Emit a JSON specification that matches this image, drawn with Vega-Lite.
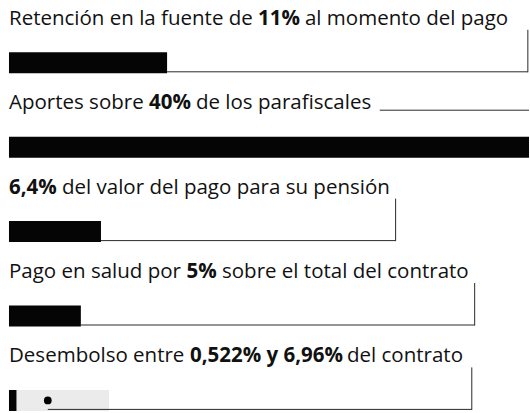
{
  "$schema": "https://vega.github.io/schema/vega-lite/v6.json",
  "width": 530,
  "height": 413,
  "autosize": {"type": "fit", "contains": "padding"},
  "padding": 0,
  "background": "white",
  "config": {
    "view": {"stroke": null},
    "text": {"font": "Open Sans", "fontSize": 20.5, "color": "#111111"}
  },
  "datasets": {
    "bars": [
      {"row": 1, "item": "Retención en la fuente", "pct": 11},
      {"row": 2, "item": "Aportes parafiscales", "pct": 40},
      {"row": 3, "item": "Pensión", "pct": 6.4},
      {"row": 4, "item": "Salud", "pct": 5},
      {"row": 5, "item": "Desembolso", "pct": 0.522, "pct_max": 6.96, "marker": 2.7}
    ],
    "labels": [
      {"row": 1, "part": "lead", "text": "Retención en la fuente de"},
      {"row": 1, "part": "figure", "text": "11%"},
      {"row": 1, "part": "tail", "text": "al momento del pago"},
      {"row": 2, "part": "lead", "text": "Aportes sobre"},
      {"row": 2, "part": "figure", "text": "40%"},
      {"row": 2, "part": "tail", "text": "de los parafiscales"},
      {"row": 3, "part": "figure", "text": "6,4%"},
      {"row": 3, "part": "tail", "text": "del valor del pago para su pensión"},
      {"row": 4, "part": "lead", "text": "Pago en salud por"},
      {"row": 4, "part": "figure", "text": "5%"},
      {"row": 4, "part": "tail", "text": "sobre el total del contrato"},
      {"row": 5, "part": "lead", "text": "Desembolso entre"},
      {"row": 5, "part": "figure", "text": "0,522% y 6,96%"},
      {"row": 5, "part": "tail", "text": "del contrato"}
    ],
    "leaders": [
      {"row": 1, "from": 11, "to": 36.1, "kind": "elbow"},
      {"row": 2, "from": 25.8, "to": 36.18, "kind": "flat"},
      {"row": 3, "from": 6.4, "to": 26.9, "kind": "elbow"},
      {"row": 4, "from": 5, "to": 32.4, "kind": "elbow"},
      {"row": 5, "from": 2.7, "to": 32.2, "kind": "elbow"}
    ]
  },
  "layer": [
    {
      "data": {"name": "bars"},
      "transform": [{"filter": "isValid(datum.pct_max)"}],
      "mark": {"type": "bar", "height": 21, "yOffset": 22, "color": "#ebebeb"},
      "encoding": {
        "x": {"field": "pct", "type": "quantitative", "scale": {"domain": [-0.625, 36.18], "clamp": true}, "axis": null},
        "x2": {"field": "pct_max"},
        "y": {"field": "row", "type": "ordinal", "scale": {"type": "band", "domain": [1, 2, 3, 4, 5], "range": [-1.4, 420.6], "paddingInner": 0, "paddingOuter": 0}, "axis": null}
      }
    },
    {
      "data": {"name": "bars"},
      "mark": {"type": "bar", "height": 21, "yOffset": 22, "color": "#050505"},
      "encoding": {
        "x": {"field": "pct", "type": "quantitative", "scale": {"domain": [-0.625, 36.18], "clamp": true}, "axis": null},
        "x2": {"datum": 0},
        "y": {"field": "row", "type": "ordinal", "scale": {"type": "band", "domain": [1, 2, 3, 4, 5], "range": [-1.4, 420.6], "paddingInner": 0, "paddingOuter": 0}, "axis": null}
      }
    },
    {
      "data": {"name": "leaders"},
      "mark": {"type": "rule", "color": "#2a2a2a", "strokeWidth": 1, "yOffset": 31},
      "transform": [{"filter": "datum.kind == 'elbow'"}],
      "encoding": {
        "x": {"field": "from", "type": "quantitative", "scale": {"domain": [-0.625, 36.18], "clamp": true}, "axis": null},
        "x2": {"field": "to"},
        "y": {"field": "row", "type": "ordinal", "scale": {"type": "band", "domain": [1, 2, 3, 4, 5], "range": [-1.4, 420.6], "paddingInner": 0, "paddingOuter": 0}, "axis": null}
      }
    },
    {
      "data": {"name": "leaders"},
      "mark": {"type": "rule", "color": "#2a2a2a", "strokeWidth": 1, "yOffset": -15},
      "transform": [{"filter": "datum.kind == 'flat'"}],
      "encoding": {
        "x": {"field": "from", "type": "quantitative", "scale": {"domain": [-0.625, 36.18], "clamp": true}, "axis": null},
        "x2": {"field": "to"},
        "y": {"field": "row", "type": "ordinal", "scale": {"type": "band", "domain": [1, 2, 3, 4, 5], "range": [-1.4, 420.6], "paddingInner": 0, "paddingOuter": 0}, "axis": null}
      }
    },
    {
      "data": {"name": "leaders"},
      "mark": {"type": "rule", "color": "#2a2a2a", "strokeWidth": 1, "yOffset": -11, "y2Offset": 31.5},
      "transform": [{"filter": "datum.kind == 'elbow'"}],
      "encoding": {
        "x": {"field": "to", "type": "quantitative", "scale": {"domain": [-0.625, 36.18], "clamp": true}, "axis": null},
        "y": {"field": "row", "type": "ordinal", "scale": {"type": "band", "domain": [1, 2, 3, 4, 5], "range": [-1.4, 420.6], "paddingInner": 0, "paddingOuter": 0}, "axis": null},
        "y2": {"field": "row"}
      }
    },
    {
      "data": {"name": "bars"},
      "transform": [{"filter": "isValid(datum.marker)"}],
      "mark": {"type": "point", "filled": true, "color": "#000000", "size": 60, "opacity": 1, "yOffset": 22},
      "encoding": {
        "x": {"field": "marker", "type": "quantitative", "scale": {"domain": [-0.625, 36.18], "clamp": true}, "axis": null},
        "y": {"field": "row", "type": "ordinal", "scale": {"type": "band", "domain": [1, 2, 3, 4, 5], "range": [-1.4, 420.6], "paddingInner": 0, "paddingOuter": 0}, "axis": null}
      }
    },
    {
      "data": {"name": "labels"},
      "transform": [{"filter": "datum.part == 'lead'"}],
      "mark": {"type": "text", "align": "left", "baseline": "middle", "dy": -22},
      "encoding": {
        "x": {"datum": 0, "type": "quantitative", "scale": {"domain": [-0.625, 36.18], "clamp": true}, "axis": null},
        "y": {"field": "row", "type": "ordinal", "scale": {"type": "band", "domain": [1, 2, 3, 4, 5], "range": [-1.4, 420.6], "paddingInner": 0, "paddingOuter": 0}, "axis": null},
        "text": {"field": "text"}
      }
    },
    {
      "data": {"name": "labels"},
      "transform": [{"filter": "datum.row == 1 && datum.part == 'figure'"}],
      "mark": {"type": "text", "align": "left", "baseline": "middle", "dy": -22, "dx": 249, "fontWeight": "bold"},
      "encoding": {
        "x": {"datum": 0, "type": "quantitative", "scale": {"domain": [-0.625, 36.18], "clamp": true}, "axis": null},
        "y": {"field": "row", "type": "ordinal", "scale": {"type": "band", "domain": [1, 2, 3, 4, 5], "range": [-1.4, 420.6], "paddingInner": 0, "paddingOuter": 0}, "axis": null},
        "text": {"field": "text"}
      }
    },
    {
      "data": {"name": "labels"},
      "transform": [{"filter": "datum.row == 1 && datum.part == 'tail'"}],
      "mark": {"type": "text", "align": "left", "baseline": "middle", "dy": -22, "dx": 296},
      "encoding": {
        "x": {"datum": 0, "type": "quantitative", "scale": {"domain": [-0.625, 36.18], "clamp": true}, "axis": null},
        "y": {"field": "row", "type": "ordinal", "scale": {"type": "band", "domain": [1, 2, 3, 4, 5], "range": [-1.4, 420.6], "paddingInner": 0, "paddingOuter": 0}, "axis": null},
        "text": {"field": "text"}
      }
    },
    {
      "data": {"name": "labels"},
      "transform": [{"filter": "datum.row == 2 && datum.part == 'figure'"}],
      "mark": {"type": "text", "align": "left", "baseline": "middle", "dy": -22, "dx": 140, "fontWeight": "bold"},
      "encoding": {
        "x": {"datum": 0, "type": "quantitative", "scale": {"domain": [-0.625, 36.18], "clamp": true}, "axis": null},
        "y": {"field": "row", "type": "ordinal", "scale": {"type": "band", "domain": [1, 2, 3, 4, 5], "range": [-1.4, 420.6], "paddingInner": 0, "paddingOuter": 0}, "axis": null},
        "text": {"field": "text"}
      }
    },
    {
      "data": {"name": "labels"},
      "transform": [{"filter": "datum.row == 2 && datum.part == 'tail'"}],
      "mark": {"type": "text", "align": "left", "baseline": "middle", "dy": -22, "dx": 187},
      "encoding": {
        "x": {"datum": 0, "type": "quantitative", "scale": {"domain": [-0.625, 36.18], "clamp": true}, "axis": null},
        "y": {"field": "row", "type": "ordinal", "scale": {"type": "band", "domain": [1, 2, 3, 4, 5], "range": [-1.4, 420.6], "paddingInner": 0, "paddingOuter": 0}, "axis": null},
        "text": {"field": "text"}
      }
    },
    {
      "data": {"name": "labels"},
      "transform": [{"filter": "datum.row == 3 && datum.part == 'figure'"}],
      "mark": {"type": "text", "align": "left", "baseline": "middle", "dy": -22, "dx": 0, "fontWeight": "bold"},
      "encoding": {
        "x": {"datum": 0, "type": "quantitative", "scale": {"domain": [-0.625, 36.18], "clamp": true}, "axis": null},
        "y": {"field": "row", "type": "ordinal", "scale": {"type": "band", "domain": [1, 2, 3, 4, 5], "range": [-1.4, 420.6], "paddingInner": 0, "paddingOuter": 0}, "axis": null},
        "text": {"field": "text"}
      }
    },
    {
      "data": {"name": "labels"},
      "transform": [{"filter": "datum.row == 3 && datum.part == 'tail'"}],
      "mark": {"type": "text", "align": "left", "baseline": "middle", "dy": -22, "dx": 53},
      "encoding": {
        "x": {"datum": 0, "type": "quantitative", "scale": {"domain": [-0.625, 36.18], "clamp": true}, "axis": null},
        "y": {"field": "row", "type": "ordinal", "scale": {"type": "band", "domain": [1, 2, 3, 4, 5], "range": [-1.4, 420.6], "paddingInner": 0, "paddingOuter": 0}, "axis": null},
        "text": {"field": "text"}
      }
    },
    {
      "data": {"name": "labels"},
      "transform": [{"filter": "datum.row == 4 && datum.part == 'figure'"}],
      "mark": {"type": "text", "align": "left", "baseline": "middle", "dy": -22, "dx": 177.5, "fontWeight": "bold"},
      "encoding": {
        "x": {"datum": 0, "type": "quantitative", "scale": {"domain": [-0.625, 36.18], "clamp": true}, "axis": null},
        "y": {"field": "row", "type": "ordinal", "scale": {"type": "band", "domain": [1, 2, 3, 4, 5], "range": [-1.4, 420.6], "paddingInner": 0, "paddingOuter": 0}, "axis": null},
        "text": {"field": "text"}
      }
    },
    {
      "data": {"name": "labels"},
      "transform": [{"filter": "datum.row == 4 && datum.part == 'tail'"}],
      "mark": {"type": "text", "align": "left", "baseline": "middle", "dy": -22, "dx": 213},
      "encoding": {
        "x": {"datum": 0, "type": "quantitative", "scale": {"domain": [-0.625, 36.18], "clamp": true}, "axis": null},
        "y": {"field": "row", "type": "ordinal", "scale": {"type": "band", "domain": [1, 2, 3, 4, 5], "range": [-1.4, 420.6], "paddingInner": 0, "paddingOuter": 0}, "axis": null},
        "text": {"field": "text"}
      }
    },
    {
      "data": {"name": "labels"},
      "transform": [{"filter": "datum.row == 5 && datum.part == 'figure'"}],
      "mark": {"type": "text", "align": "left", "baseline": "middle", "dy": -22, "dx": 181, "fontWeight": "bold"},
      "encoding": {
        "x": {"datum": 0, "type": "quantitative", "scale": {"domain": [-0.625, 36.18], "clamp": true}, "axis": null},
        "y": {"field": "row", "type": "ordinal", "scale": {"type": "band", "domain": [1, 2, 3, 4, 5], "range": [-1.4, 420.6], "paddingInner": 0, "paddingOuter": 0}, "axis": null},
        "text": {"field": "text"}
      }
    },
    {
      "data": {"name": "labels"},
      "transform": [{"filter": "datum.row == 5 && datum.part == 'tail'"}],
      "mark": {"type": "text", "align": "left", "baseline": "middle", "dy": -22, "dx": 338},
      "encoding": {
        "x": {"datum": 0, "type": "quantitative", "scale": {"domain": [-0.625, 36.18], "clamp": true}, "axis": null},
        "y": {"field": "row", "type": "ordinal", "scale": {"type": "band", "domain": [1, 2, 3, 4, 5], "range": [-1.4, 420.6], "paddingInner": 0, "paddingOuter": 0}, "axis": null},
        "text": {"field": "text"}
      }
    }
  ]
}
